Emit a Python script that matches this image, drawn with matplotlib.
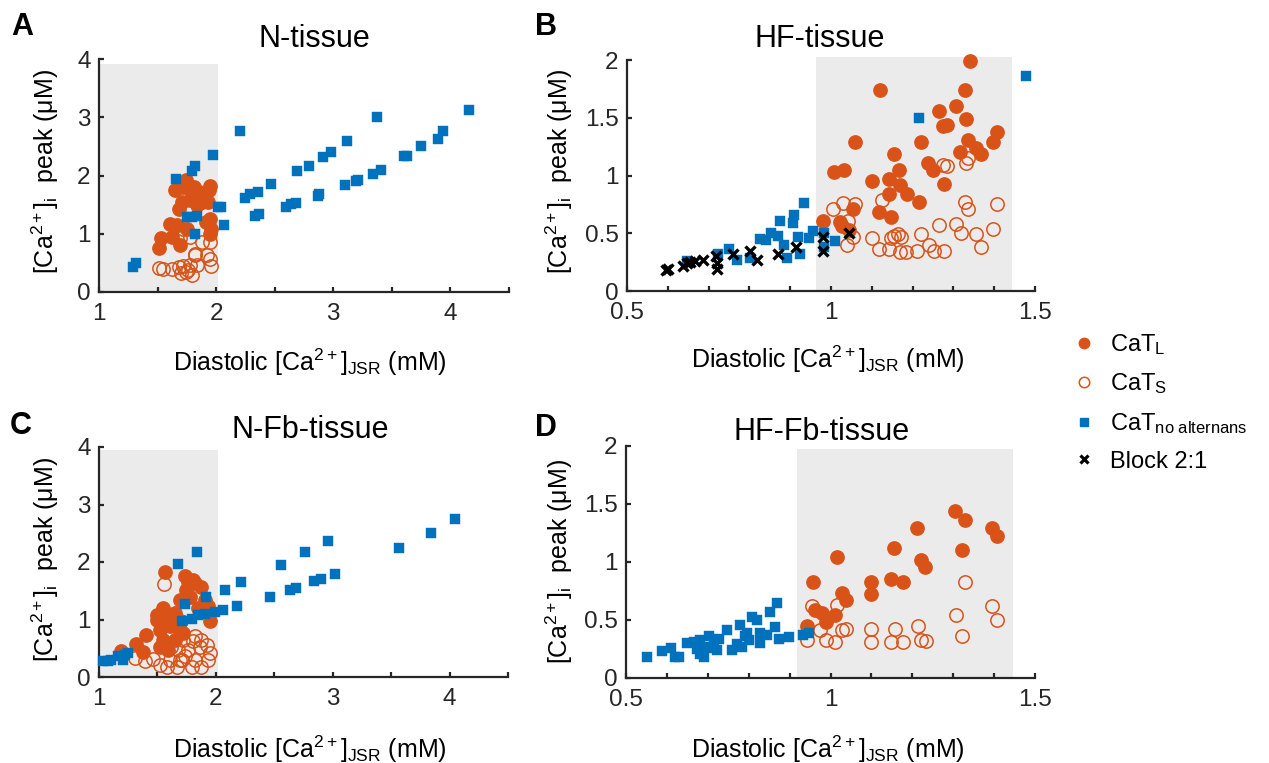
import matplotlib
matplotlib.use("Agg")
import matplotlib.pyplot as plt
from matplotlib.lines import Line2D

plt.rcParams['font.family'] = ['Liberation Sans', 'DejaVu Sans']
plt.rcParams['mathtext.fontset'] = 'custom'
plt.rcParams['mathtext.rm'] = 'Liberation Sans'
plt.rcParams['mathtext.it'] = 'Liberation Sans:italic'
plt.rcParams['mathtext.bf'] = 'Liberation Sans:bold'

# ---------------- data (x = diastolic [Ca]JSR mM, y = [Ca]i peak uM) ----------------
A_blue = [(1.29,0.43),(1.32,0.49),(1.66,1.94),(1.79,2.08),(1.82,2.16),(1.97,2.35),
          (1.75,1.28),(1.79,1.28),(1.84,1.31),(1.82,0.99),(2.02,1.46),(2.04,1.46),
          (2.07,1.15),(2.20,2.76),(2.25,1.62),(2.29,1.69),(2.36,1.72),(2.47,1.85),
          (2.33,1.30),(2.37,1.34),(2.60,1.46),(2.64,1.51),(2.68,1.52),(2.69,2.07),
          (2.79,2.17),(2.87,1.65),(2.88,1.68),(2.91,2.31),(2.98,2.41),(3.12,2.59),
          (3.10,1.83),(3.19,1.90),(3.21,1.93),(3.34,2.03),(3.41,2.09),(3.37,3.01),
          (3.60,2.33),(3.63,2.33),(3.75,2.51),(3.89,2.62),(3.94,2.76),(4.16,3.12)]
A_long = [(1.51,0.76),(1.53,0.93),(1.62,0.95),(1.61,1.17),(1.69,0.81),(1.65,1.75),
          (1.74,1.92),(1.72,1.81),(1.77,1.78),(1.81,1.81),(1.82,1.66),(1.85,1.72),
          (1.88,1.55),(1.71,1.55),(1.68,1.43),(1.78,1.58),(1.95,1.82),(1.94,1.75),
          (1.93,1.55),(1.95,1.26),(1.96,1.09),(1.95,1.00),(1.84,1.49),(1.91,1.20),
          (1.67,1.15),(1.75,1.09)]
A_short = [(1.51,0.42),(1.55,0.40),(1.62,0.40),(1.68,0.43),(1.72,0.45),(1.74,0.34),
           (1.79,0.29),(1.78,0.46),(1.84,0.46),(1.92,0.63),(1.95,0.57),(1.96,0.45),
           (1.82,0.66),(1.88,0.86),(1.95,0.86),(1.78,0.95),(1.69,0.92),(1.72,1.09),
           (1.82,0.63),(1.70,0.32),(1.76,0.37)]

B_blue = [(0.646,0.26),(0.650,0.25),(0.723,0.32),(0.751,0.36),(0.770,0.27),(0.802,0.29),
          (0.826,0.45),(0.840,0.44),(0.852,0.50),(0.869,0.48),(0.874,0.61),(0.886,0.40),
          (0.893,0.29),(0.909,0.66),(0.908,0.59),(0.919,0.47),(0.924,0.32),(0.933,0.76),
          (0.946,0.46),(0.955,0.52),(0.982,0.50),(0.982,0.38),(1.011,0.43),(1.215,1.50),
          (1.477,1.86)]
B_block = [(0.595,0.185),(0.601,0.19),(0.638,0.22),(0.646,0.24),(0.654,0.25),(0.666,0.26),
           (0.686,0.27),(0.719,0.30),(0.721,0.24),(0.720,0.19),(0.760,0.32),(0.802,0.35),
           (0.818,0.27),(0.869,0.32),(0.913,0.38),(0.981,0.47),(0.981,0.35),(1.043,0.50)]
B_long = [(0.981,0.61),(1.008,1.03),(1.032,1.05),(1.023,0.60),(1.027,0.56),(1.043,0.53),
          (1.058,1.29),(1.055,0.71),(1.101,0.95),(1.120,1.74),(1.118,0.68),(1.142,0.97),
          (1.143,0.84),(1.146,0.64),(1.154,1.19),(1.167,1.05),(1.169,0.92),(1.187,0.84),
          (1.215,0.77),(1.221,1.29),(1.238,1.11),(1.250,1.05),(1.264,1.56),(1.278,0.93),
          (1.274,1.43),(1.285,1.44),(1.307,1.60),(1.316,1.20),(1.329,1.74),(1.331,1.49),
          (1.337,1.31),(1.341,1.99),(1.355,1.24),(1.367,1.19),(1.397,1.29),(1.406,1.38)]
B_short = [(1.006,0.71),(1.029,0.76),(1.041,0.61),(1.059,0.75),(1.039,0.40),(1.055,0.47),
           (1.101,0.46),(1.118,0.36),(1.124,0.79),(1.143,0.36),(1.146,0.46),(1.155,0.48),
           (1.164,0.49),(1.172,0.47),(1.183,0.34),(1.170,0.34),(1.212,0.35),(1.221,0.49),
           (1.240,0.40),(1.252,0.35),(1.264,0.57),(1.278,0.35),(1.274,1.09),(1.284,1.08),
           (1.307,0.58),(1.318,0.50),(1.329,0.77),(1.337,0.71),(1.331,1.11),(1.337,1.15),
           (1.355,0.49),(1.367,0.38),(1.397,0.54),(1.408,0.75)]

C_blue = [(1.037,0.27),(1.08,0.28),(1.103,0.30),(1.165,0.36),(1.208,0.30),(1.222,0.39),
          (1.251,0.42),(1.735,1.27),(1.678,1.96),(1.835,2.17),(1.712,0.98),(1.792,1.01),
          (1.849,1.07),(1.906,1.10),(1.912,1.39),(1.991,1.13),(2.063,1.17),(2.077,1.51),
          (2.177,1.23),(2.219,1.65),(2.467,1.40),(2.561,1.95),(2.632,1.51),(2.689,1.55),
          (2.766,2.17),(2.838,1.67),(2.897,1.70),(2.960,2.37),(3.017,1.80),(3.567,2.24),
          (3.838,2.51),(4.048,2.75)]
C_long = [(1.188,0.46),(1.313,0.58),(1.379,0.43),(1.399,0.73),(1.493,0.99),(1.521,0.81),
          (1.564,1.82),(1.55,1.20),(1.57,0.99),(1.521,0.53),(1.55,0.65),(1.607,0.88),
          (1.65,1.11),(1.692,1.34),(1.735,1.75),(1.764,1.66),(1.806,1.69),(1.82,1.63),
          (1.877,1.57),(1.741,1.51),(1.778,1.40),(1.906,1.34),(1.934,1.23),(1.949,0.97),
          (1.849,1.20),(1.65,0.88),(1.721,0.76),(1.65,0.65),(1.593,0.47),(1.70,0.97),
          (1.493,1.08)]
C_short = [(1.558,1.62),(1.308,0.33),(1.393,0.27),(1.464,0.31),(1.521,0.21),(1.578,0.18),
           (1.607,0.30),(1.664,0.18),(1.692,0.30),(1.735,0.36),(1.764,0.47),(1.806,0.62),
           (1.82,0.71),(1.863,0.53),(1.877,0.65),(1.92,0.56),(1.949,0.42),(1.934,0.30),
           (1.872,0.18),(1.792,0.18),(1.721,0.65),(1.678,0.47),(1.82,0.30),(1.615,0.53),
           (1.707,0.30)]

D_blue = [(0.551,0.18),(0.589,0.23),(0.609,0.26),(0.621,0.18),(0.629,0.18),(0.650,0.30),
          (0.666,0.31),(0.674,0.25),(0.682,0.21),(0.690,0.18),(0.702,0.36),(0.706,0.27),
          (0.715,0.33),(0.723,0.24),(0.727,0.34),(0.747,0.41),(0.759,0.24),(0.771,0.29),
          (0.779,0.46),(0.783,0.27),(0.792,0.36),(0.800,0.33),(0.808,0.53),(0.820,0.50),
          (0.828,0.39),(0.828,0.30),(0.851,0.57),(0.869,0.65),(0.865,0.44),(0.873,0.34),
          (0.899,0.35),(0.933,0.37),(0.948,0.39),(0.698,0.26),(0.682,0.33),(0.796,0.39),
          (0.844,0.37)]
D_long = [(0.942,0.45),(0.956,0.83),(0.962,0.59),(0.978,0.56),(0.990,0.48),(1.011,0.54),
          (1.015,1.04),(1.027,0.73),(1.037,0.67),(1.100,0.83),(1.098,0.72),(1.147,0.85),
          (1.155,1.12),(1.177,0.83),(1.212,1.29),(1.221,1.02),(1.231,0.96),(1.305,1.44),
          (1.328,1.36),(1.321,1.10),(1.394,1.29),(1.408,1.22)]
D_short = [(0.942,0.33),(0.954,0.62),(0.974,0.41),(0.990,0.33),(1.011,0.31),(1.015,0.63),
           (1.027,0.41),(1.039,0.42),(1.100,0.42),(1.100,0.31),(1.148,0.31),(1.157,0.42),
           (1.177,0.31),(1.213,0.45),(1.221,0.33),(1.233,0.32),(1.306,0.54),(1.321,0.36),
           (1.328,0.83),(1.394,0.62),(1.406,0.50)]

# alternans regions (x range, y top)
A_region = (1.0, 2.02, 3.92)
B_region = (0.964, 1.444, 2.03)
C_region = (1.0, 2.02, 3.95)
D_region = (0.917, 1.446, 1.97)

titles = ["N-tissue", "HF-tissue", "N-Fb-tissue", "HF-Fb-tissue"]
letters = ["A", "B", "C", "D"]
legend_labels = [r"CaT$_\mathrm{L}$", r"CaT$_\mathrm{S}$",
                 r"CaT$_\mathrm{no\ alternans}$", "Block 2:1"]

N_xticks = [1, 1.5, 2, 2.5, 3, 3.5, 4, 4.5]
N_xticklabels = ["1", "", "2", "", "3", "", "4", ""]
N_yticks = [0, 1, 2, 3, 4]
HF_xticks = [0.5, 0.6, 0.7, 0.8, 0.9, 1.0, 1.1, 1.2, 1.3, 1.4, 1.5]
HF_xticklabels = ["0.5", "", "", "", "", "1", "", "", "", "", "1.5"]
HF_yticks = [0, 0.5, 1, 1.5, 2]
HF_yticklabels = ["0", "0.5", "1", "1.5", "2"]

# ---------------- style ----------------
ORANGE = "#D95319"
BLUE = "#0072BD"
SHADE = "#EBEBEB"
AX = "#262626"
W, H = 1269, 763

fig = plt.figure(figsize=(W / 100, H / 100), dpi=100)

def px_axes(l, r, t, b):
    return fig.add_axes([l / W, 1 - b / H, (r - l) / W, (b - t) / H])

axA = px_axes(99, 509, 59, 292)
axB = px_axes(627, 1035, 60, 291)
axC = px_axes(99, 508, 447, 677)
axD = px_axes(626, 1035, 446, 678)

def unzip(pairs):
    return [p[0] for p in pairs], [p[1] for p in pairs]

def draw(ax, region, long, short, blue, block=None):
    x0, x1, ytop = region
    ax.axvspan(x0, x1, ymin=0, ymax=ytop / ax.get_ylim()[1], color=SHADE, lw=0,
               zorder=0, clip_on=False)
    x, y = unzip(long)
    ax.plot(x, y, 'o', color=ORANGE, ms=9.6, mec=ORANGE, zorder=2, clip_on=False)
    x, y = unzip(short)
    ax.plot(x, y, 'o', mfc='none', mec=ORANGE, ms=9.6, mew=1.1, zorder=3, clip_on=False)
    x, y = unzip(blue)
    ax.plot(x, y, 's', color=BLUE, ms=7.8, mec=BLUE, mew=0.3, zorder=4, clip_on=False)
    if block is not None:
        x, y = unzip(block)
        ax.plot(x, y, 'x', color='black', ms=6.5, mew=2.4, zorder=5, clip_on=False)

def style(ax, xlim, ylim, xt, xtl, yt, ytl):
    ax.set_xlim(*xlim)
    ax.set_ylim(*ylim)
    ax.set_xticks(xt)
    ax.set_xticklabels(xtl)
    ax.set_yticks(yt)
    ax.set_yticklabels(ytl)
    for s in ['top', 'right']:
        ax.spines[s].set_visible(False)
    for s in ['left', 'bottom']:
        ax.spines[s].set_color(AX)
        ax.spines[s].set_linewidth(1.6)
    ax.tick_params(direction='in', length=3.5, width=1.6, color=AX,
                   labelsize=17.5, labelcolor=AX)
    ax.tick_params(axis='x', pad=8)
    ax.tick_params(axis='y', pad=6)
    ax.set_facecolor('none')

style(axA, (1, 4.5), (0, 4), N_xticks, N_xticklabels, N_yticks, [str(v) for v in N_yticks])
style(axC, (1, 4.5), (0, 4), N_xticks, N_xticklabels, N_yticks, [str(v) for v in N_yticks])
style(axB, (0.5, 1.5), (0, 2), HF_xticks, HF_xticklabels, HF_yticks, HF_yticklabels)
style(axD, (0.5, 1.5), (0, 2), HF_xticks, HF_xticklabels, HF_yticks, HF_yticklabels)

draw(axA, A_region, A_long, A_short, A_blue)
draw(axB, B_region, B_long, B_short, B_blue, B_block)
draw(axC, C_region, C_long, C_short, C_blue)
draw(axD, D_region, D_long, D_short, D_blue)

def ftext(x, y, s, **kw):
    fig.text(x / W, 1 - y / H, s, **kw)

xlabel = r"Diastolic [Ca$^{2+}$]$_\mathrm{JSR}$ (mM)"
ylabel = r"[Ca$^{2+}$]$_\mathrm{i}$  peak (μM)"

# titles
for (cx, by), t in zip([(314, 47), (820, 47), (310, 438), (822, 440)], titles):
    ftext(cx, by, t, ha='center', va='baseline', fontsize=22, color='black')
# panel letters
for (lx, by), t in zip([(11, 35), (535, 35), (10, 434), (535, 436)], letters):
    ftext(lx, by, t, ha='left', va='baseline', fontsize=22, fontweight='bold', color='black')
# x labels
for cx, by in [(310, 371), (828, 368), (310, 758), (828, 758)]:
    ftext(cx, by, xlabel, ha='center', va='baseline', fontsize=18, color='black')
# y labels
for cx, cy in [(45, 172), (559, 172), (45, 560), (559, 562)]:
    ftext(cx, cy, ylabel, ha='center', va='center', rotation=90, fontsize=18, color='black')

handles = [Line2D([], [], ls='none', marker='o', color=ORANGE, ms=7.5),
           Line2D([], [], ls='none', marker='o', mfc='none', mec=ORANGE, ms=7.5, mew=1.1),
           Line2D([], [], ls='none', marker='s', color=BLUE, ms=6.2),
           Line2D([], [], ls='none', marker='x', color='black', ms=5.5, mew=2.3)]
fig.legend(handles, legend_labels, loc='upper left',
           bbox_to_anchor=(1072 / W, 1 - 332 / H), frameon=False, fontsize=17,
           handlelength=1.0, handletextpad=0.6, labelspacing=0.62, borderpad=0,
           borderaxespad=0)

fig.savefig("out.png", dpi=100)
